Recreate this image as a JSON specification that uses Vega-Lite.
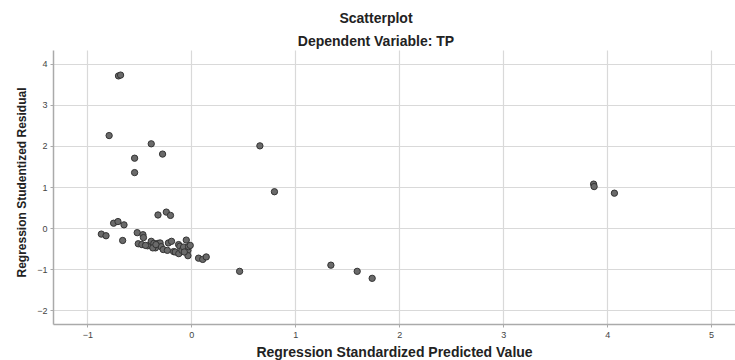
{
  "$schema": "https://vega.github.io/schema/vega-lite/v6.json",
  "autosize": "none",
  "width": 682,
  "height": 274,
  "padding": {"left": 53, "top": 50, "right": 0, "bottom": 36},
  "background": "white",
  "title": {
    "text": "Scatterplot",
    "subtitle": "Dependent Variable: TP",
    "anchor": "middle",
    "dx": -18,
    "font": "Liberation Sans",
    "fontSize": 14,
    "fontWeight": "bold",
    "color": "#222222",
    "subtitleFont": "Liberation Sans",
    "subtitleFontSize": 14,
    "subtitleFontWeight": "bold",
    "subtitleColor": "#222222",
    "subtitlePadding": 8.5,
    "offset": 1.5
  },
  "config": {
    "view": {"stroke": null},
    "axis": {
      "labelFont": "Liberation Sans",
      "labelFontSize": 9,
      "labelColor": "#444444",
      "titleFont": "Liberation Sans",
      "titleFontWeight": "bold",
      "titleColor": "#222222",
      "gridColor": "#d9d9d9",
      "gridWidth": 1.2,
      "domainColor": "#aaaaaa",
      "domainWidth": 1.5,
      "tickColor": "#aaaaaa",
      "tickSize": 3
    }
  },
  "data": {
    "values": [
      {"x": -0.70, "y": 3.70}, {"x": -0.68, "y": 3.72}, {"x": -0.79, "y": 2.25},
      {"x": -0.385, "y": 2.05}, {"x": -0.545, "y": 1.70}, {"x": -0.276, "y": 1.80},
      {"x": -0.545, "y": 1.35}, {"x": 0.66, "y": 2.00}, {"x": 0.80, "y": 0.885},
      {"x": 0.465, "y": -1.05}, {"x": -0.32, "y": 0.32}, {"x": -0.24, "y": 0.39},
      {"x": -0.20, "y": 0.31}, {"x": -0.747, "y": 0.12}, {"x": -0.705, "y": 0.16},
      {"x": -0.647, "y": 0.08}, {"x": -0.865, "y": -0.145}, {"x": -0.82, "y": -0.185},
      {"x": -0.66, "y": -0.30}, {"x": -0.52, "y": -0.11}, {"x": -0.465, "y": -0.16},
      {"x": -0.46, "y": -0.23}, {"x": -0.51, "y": -0.38}, {"x": -0.475, "y": -0.40},
      {"x": -0.42, "y": -0.43}, {"x": -0.385, "y": -0.32}, {"x": -0.36, "y": -0.37},
      {"x": -0.345, "y": -0.48}, {"x": -0.32, "y": -0.37}, {"x": -0.30, "y": -0.36},
      {"x": -0.29, "y": -0.45}, {"x": -0.27, "y": -0.52}, {"x": -0.23, "y": -0.54},
      {"x": -0.22, "y": -0.36}, {"x": -0.19, "y": -0.32}, {"x": -0.17, "y": -0.57},
      {"x": -0.154, "y": -0.58}, {"x": -0.122, "y": -0.40}, {"x": -0.11, "y": -0.44},
      {"x": -0.12, "y": -0.62}, {"x": -0.09, "y": -0.54}, {"x": -0.074, "y": -0.46},
      {"x": -0.048, "y": -0.29}, {"x": -0.032, "y": -0.54}, {"x": -0.026, "y": -0.45},
      {"x": -0.032, "y": -0.67}, {"x": -0.01, "y": -0.42}, {"x": -0.067, "y": -0.58},
      {"x": 0.07, "y": -0.73}, {"x": 0.11, "y": -0.76}, {"x": 0.144, "y": -0.70},
      {"x": 1.343, "y": -0.90}, {"x": 1.596, "y": -1.05}, {"x": 1.74, "y": -1.22},
      {"x": 3.87, "y": 1.07}, {"x": 3.875, "y": 1.01}, {"x": 4.07, "y": 0.85},
      {"x": -0.37, "y": -0.48}, {"x": -0.34, "y": -0.40}, {"x": -0.44, "y": -0.42}
    ]
  },
  "mark": {"type": "point", "filled": true, "size": 40, "fill": "#6a6a6a", "stroke": "#333333", "strokeWidth": 1, "opacity": 1},
  "encoding": {
    "x": {
      "field": "x", "type": "quantitative",
      "scale": {"domain": [-1.33, 5.23], "nice": false, "zero": false},
      "axis": {"title": "Regression Standardized Predicted Value", "titleFontSize": 14, "values": [-1, 0, 1, 2, 3, 4, 5], "format": "d", "labelPadding": 3, "titlePadding": 6}
    },
    "y": {
      "field": "y", "type": "quantitative",
      "scale": {"domain": [-2.33, 4.33], "nice": false, "zero": false},
      "axis": {"title": "Regression Studentized Residual", "titleFontSize": 12, "values": [-2, -1, 0, 1, 2, 3, 4], "format": "d", "labelPadding": 3, "titleY": 132, "titleX": -25}
    }
  }
}
